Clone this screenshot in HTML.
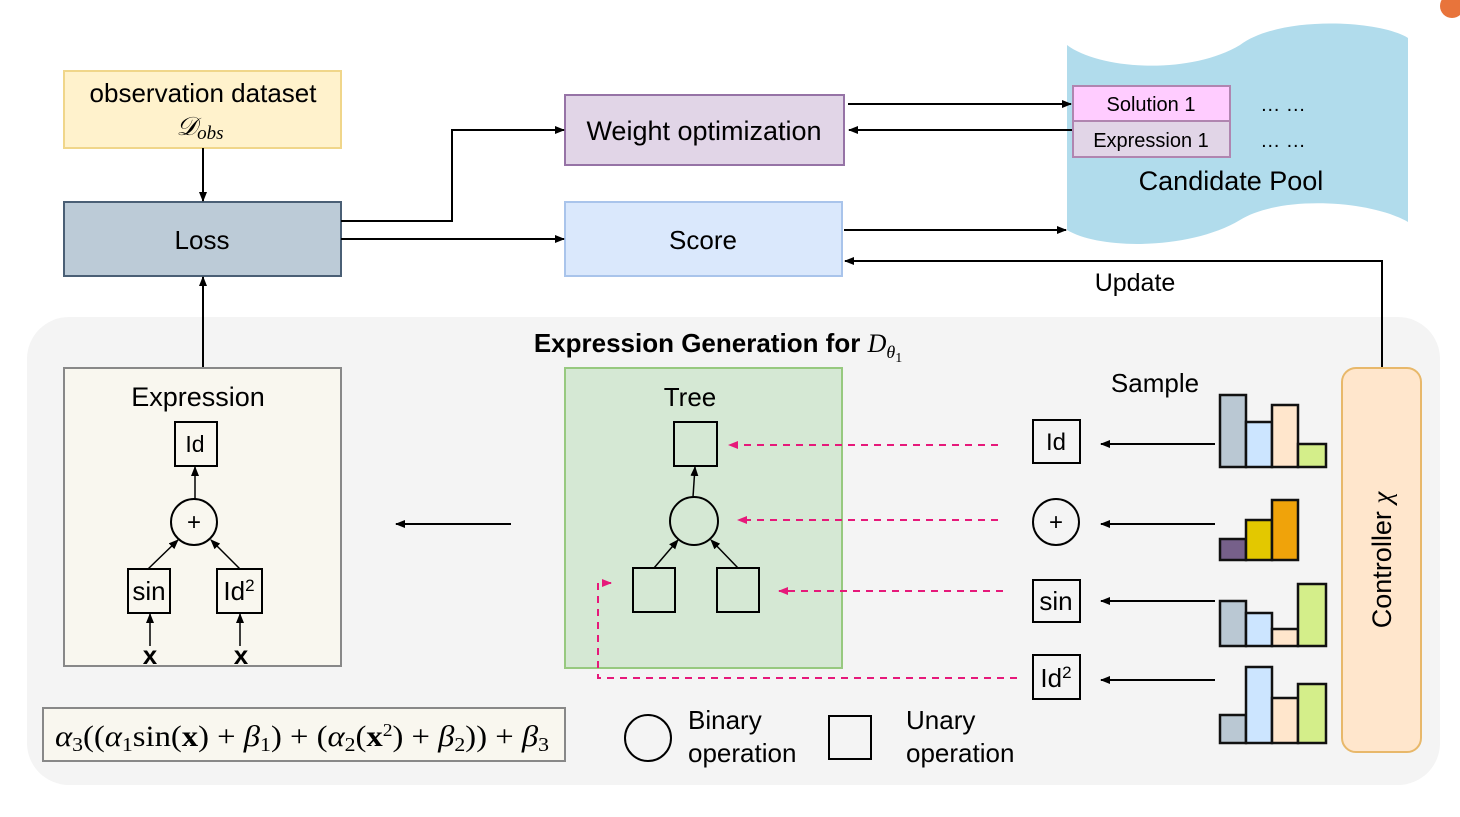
<!DOCTYPE html>
<html><head><meta charset="utf-8"><style>
html,body{margin:0;padding:0;background:#fff;}
svg{display:block;font-family:"Liberation Sans",sans-serif;}
</style></head><body>
<svg width="1460" height="817" viewBox="0 0 1460 817" xmlns="http://www.w3.org/2000/svg">
<defs>
<marker id="a" markerWidth="10" markerHeight="8" refX="9" refY="4" orient="auto" markerUnits="userSpaceOnUse"><path d="M0,0 L10,4 L0,8 z" fill="#000"/></marker>
<marker id="p" markerWidth="10" markerHeight="8" refX="9" refY="4" orient="auto" markerUnits="userSpaceOnUse"><path d="M0,0 L10,4 L0,8 z" fill="#e6197a"/></marker>
</defs>
<rect x="27" y="317" width="1413" height="468" rx="42" fill="#f4f4f4"/>
<circle cx="1452" cy="6" r="12" fill="#e8743b"/>
<!-- pool -->
<path d="M1067,45 C1100,70 1190,75 1240,45 C1280,15 1380,20 1408,38 L1408,222 C1370,200 1280,195 1240,220 C1190,250 1100,250 1067,230 Z" fill="#b1dcec"/>
<rect x="1073" y="86" width="157" height="35" fill="#ffccff" stroke="#b085b0" stroke-width="2"/>
<rect x="1073" y="121" width="157" height="36" fill="#e1d5e7" stroke="#b085b0" stroke-width="2"/>
<text x="1151" y="111" font-size="20" text-anchor="middle">Solution 1</text>
<text x="1151" y="147" font-size="20" text-anchor="middle">Expression 1</text>
<text x="1283" y="111" font-size="20" text-anchor="middle">… …</text>
<text x="1283" y="147" font-size="20" text-anchor="middle">… …</text>
<text x="1231" y="190" font-size="27" text-anchor="middle">Candidate Pool</text>
<!-- top boxes -->
<rect x="64" y="71" width="277" height="77" fill="#fff2cc" stroke="#f0d68a" stroke-width="2"/>
<text x="203" y="102" font-size="26" text-anchor="middle">observation dataset</text>
<text x="200" y="135" font-size="26" font-style="italic" text-anchor="middle" font-family="Liberation Serif,serif">𝒟<tspan font-size="19" dy="4">obs</tspan></text>
<rect x="64" y="202" width="277" height="74" fill="#bccbd7" stroke="#4a5f75" stroke-width="2"/>
<text x="202" y="249" font-size="26" text-anchor="middle">Loss</text>
<rect x="565" y="95" width="279" height="70" fill="#e1d5e7" stroke="#9673a6" stroke-width="2"/>
<text x="704" y="140" font-size="27" text-anchor="middle">Weight optimization</text>
<rect x="565" y="202" width="277" height="74" fill="#dae8fc" stroke="#a9c4eb" stroke-width="2"/>
<text x="703" y="249" font-size="26" text-anchor="middle">Score</text>
<g stroke="#000" stroke-width="2" fill="none">
<line x1="203" y1="148" x2="203" y2="201" marker-end="url(#a)"/>
<polyline points="341,221 452,221 452,130 564,130" marker-end="url(#a)"/>
<line x1="341" y1="239" x2="564" y2="239" marker-end="url(#a)"/>
<line x1="848" y1="104" x2="1071" y2="104" marker-end="url(#a)"/>
<line x1="1072" y1="130" x2="849" y2="130" marker-end="url(#a)"/>
<line x1="844" y1="230" x2="1066" y2="230" marker-end="url(#a)"/>
<polyline points="1382,368 1382,261 845,261" marker-end="url(#a)"/>
<line x1="203" y1="368" x2="203" y2="277" marker-end="url(#a)"/>
<line x1="511" y1="524" x2="396" y2="524" marker-end="url(#a)"/>
</g>
<text x="1135" y="291" font-size="25" text-anchor="middle">Update</text>
<text x="718" y="352" font-size="26" font-weight="bold" text-anchor="middle">Expression Generation for <tspan font-family="Liberation Serif,serif" font-style="italic" font-weight="normal">D</tspan><tspan font-family="Liberation Serif,serif" font-style="italic" font-weight="normal" font-size="18" dy="6">θ</tspan><tspan font-family="Liberation Serif,serif" font-weight="normal" font-size="14" dy="4">1</tspan></text>
<text x="1155" y="392" font-size="26" text-anchor="middle">Sample</text>
<!-- expression box -->
<rect x="64" y="368" width="277" height="298" fill="#f9f7ef" stroke="#888" stroke-width="2"/>
<text x="198" y="406" font-size="27" text-anchor="middle">Expression</text>
<g stroke="#000" stroke-width="2" fill="none">
<rect x="175" y="422" width="42" height="44"/>
<circle cx="194" cy="522" r="23"/>
<rect x="128" y="569" width="42" height="44"/>
<rect x="217" y="569" width="45" height="44"/>
</g>
<g stroke="#000" stroke-width="1.5" fill="none">
<line x1="195" y1="499" x2="195" y2="467" marker-end="url(#a)"/>
<line x1="148" y1="569" x2="178" y2="540" marker-end="url(#a)"/>
<line x1="240" y1="569" x2="211" y2="540" marker-end="url(#a)"/>
<line x1="150" y1="646" x2="150" y2="614" marker-end="url(#a)"/>
<line x1="240" y1="646" x2="240" y2="614" marker-end="url(#a)"/>
</g>
<text x="195" y="452" font-size="23" text-anchor="middle">Id</text>
<text x="194" y="530" font-size="24" text-anchor="middle">+</text>
<text x="149" y="600" font-size="26" text-anchor="middle">sin</text>
<text x="239" y="600" font-size="26" text-anchor="middle">Id<tspan font-size="17" dy="-9">2</tspan></text>
<text x="150" y="664" font-size="26" font-weight="bold" text-anchor="middle">x</text>
<text x="241" y="664" font-size="26" font-weight="bold" text-anchor="middle">x</text>
<rect x="43" y="708" width="522" height="53" fill="#f9f7ef" stroke="#888" stroke-width="2"/>
<text x="55" y="746" font-size="30" textLength="494" lengthAdjust="spacingAndGlyphs" font-family="Liberation Serif,serif"><tspan font-style="italic">α</tspan><tspan font-size="20" dy="5">3</tspan><tspan dy="-5">((</tspan><tspan font-style="italic">α</tspan><tspan font-size="20" dy="5">1</tspan><tspan dy="-5">sin(</tspan><tspan font-weight="bold">x</tspan>) + <tspan font-style="italic">β</tspan><tspan font-size="20" dy="5">1</tspan><tspan dy="-5">) + (</tspan><tspan font-style="italic">α</tspan><tspan font-size="20" dy="5">2</tspan><tspan dy="-5">(</tspan><tspan font-weight="bold">x</tspan><tspan font-size="18" dy="-10">2</tspan><tspan dy="10">) + </tspan><tspan font-style="italic">β</tspan><tspan font-size="20" dy="5">2</tspan><tspan dy="-5">)) + </tspan><tspan font-style="italic">β</tspan><tspan font-size="20" dy="5">3</tspan></text>
<!-- tree -->
<rect x="565" y="368" width="277" height="300" fill="#d5e8d4" stroke="#97c97f" stroke-width="2"/>
<text x="690" y="406" font-size="26" text-anchor="middle">Tree</text>
<g stroke="#000" stroke-width="2" fill="none">
<rect x="674" y="422" width="43" height="44"/>
<circle cx="694" cy="521" r="24"/>
<rect x="633" y="568" width="42" height="44"/>
<rect x="717" y="568" width="42" height="44"/>
</g>
<g stroke="#000" stroke-width="1.5" fill="none">
<line x1="693" y1="497" x2="695" y2="467" marker-end="url(#a)"/>
<line x1="654" y1="568" x2="678" y2="540" marker-end="url(#a)"/>
<line x1="738" y1="568" x2="711" y2="540" marker-end="url(#a)"/>
</g>
<g stroke="#e6197a" stroke-width="2" fill="none" stroke-dasharray="7,6">
<line x1="998" y1="445" x2="729" y2="445" marker-end="url(#p)"/>
<line x1="998" y1="520" x2="738" y2="520" marker-end="url(#p)"/>
<line x1="1003" y1="591" x2="779" y2="591" marker-end="url(#p)"/>
<polyline points="1017,678 598,678 598,583 611,583" marker-end="url(#p)"/>
</g>
<!-- right nodes -->
<g stroke="#000" stroke-width="2" fill="none">
<rect x="1033" y="420" width="47" height="43"/>
<circle cx="1056" cy="522" r="23"/>
<rect x="1033" y="580" width="47" height="42"/>
<rect x="1033" y="655" width="47" height="44"/>
<line x1="1215" y1="444" x2="1101" y2="444" marker-end="url(#a)"/>
<line x1="1215" y1="524" x2="1101" y2="524" marker-end="url(#a)"/>
<line x1="1215" y1="601" x2="1101" y2="601" marker-end="url(#a)"/>
<line x1="1215" y1="680" x2="1101" y2="680" marker-end="url(#a)"/>
</g>
<text x="1056" y="450" font-size="24" text-anchor="middle">Id</text>
<text x="1056" y="530" font-size="24" text-anchor="middle">+</text>
<text x="1056" y="610" font-size="26" text-anchor="middle">sin</text>
<text x="1056" y="687" font-size="26" text-anchor="middle">Id<tspan font-size="17" dy="-9">2</tspan></text>
<!-- histograms -->
<g stroke="#111" stroke-width="2.5">
<rect x="1220" y="395" width="26" height="72" fill="#bac8d3"/>
<rect x="1246" y="422" width="26" height="45" fill="#cce5ff"/>
<rect x="1272" y="405" width="26" height="62" fill="#ffe6cc"/>
<rect x="1298" y="444" width="28" height="23" fill="#d4ee8a"/>
<rect x="1220" y="539" width="26" height="21" fill="#76608a"/>
<rect x="1246" y="520" width="26" height="40" fill="#e3c800"/>
<rect x="1272" y="500" width="26" height="60" fill="#f0a30a"/>
<rect x="1220" y="601" width="26" height="45" fill="#bac8d3"/>
<rect x="1246" y="613" width="26" height="33" fill="#cce5ff"/>
<rect x="1272" y="629" width="26" height="17" fill="#ffe6cc"/>
<rect x="1298" y="584" width="28" height="62" fill="#d4ee8a"/>
<rect x="1220" y="715" width="26" height="28" fill="#bac8d3"/>
<rect x="1246" y="667" width="26" height="76" fill="#cce5ff"/>
<rect x="1272" y="698" width="26" height="45" fill="#ffe6cc"/>
<rect x="1298" y="684" width="28" height="59" fill="#d4ee8a"/>
</g>
<rect x="1342" y="368" width="79" height="384" rx="14" fill="#ffe6cc" stroke="#e8b86a" stroke-width="2"/>
<text transform="translate(1391,560) rotate(-90)" font-size="27" text-anchor="middle">Controller <tspan font-family="Liberation Serif,serif" font-style="italic">χ</tspan></text>
<!-- legend -->
<circle cx="648" cy="738" r="23" fill="none" stroke="#000" stroke-width="2"/>
<text x="688" y="729" font-size="26">Binary</text>
<text x="688" y="762" font-size="26">operation</text>
<rect x="829" y="716" width="42" height="43" fill="none" stroke="#000" stroke-width="2"/>
<text x="906" y="729" font-size="26">Unary</text>
<text x="906" y="762" font-size="26">operation</text>
</svg>
</body></html>
